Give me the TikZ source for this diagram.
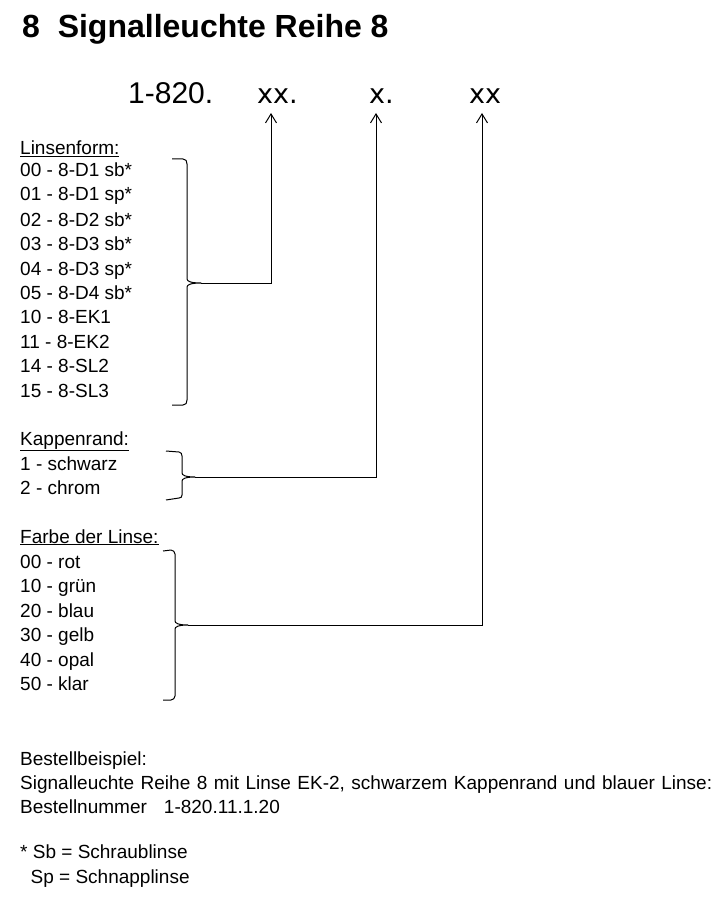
\documentclass[tikz,border=0pt]{standalone}
\usepackage{fontspec}
\setmainfont{Liberation Sans}
\newfontfamily\codefont{DejaVu Sans}
\usetikzlibrary{arrows.meta}
\begin{document}
\begin{tikzpicture}[x=1pt,y=-1pt,
  txt/.style={anchor=base west,inner sep=0pt,font=\fontsize{19}{19}\selectfont},
  codetxt/.style={anchor=base west,inner sep=0pt,font=\codefont\fontsize{27}{27}\selectfont},
  bracestyle/.style={line width=1pt,line join=round},
  conn/.style={line width=1pt,-{Straight Barb[length=9pt,width=11pt,line width=1pt]}}]
\useasboundingbox (0,0) rectangle (723,901);
% title
\node[anchor=base west,inner sep=0pt,font=\bfseries\fontsize{32}{32}\selectfont] (title) at (22,38) {8\hspace{0.278em}\ Signalleuchte Reihe 8};
% code
\node[anchor=base west,inner sep=0pt,font=\fontsize{30}{30}\selectfont] (c1) at (128,104) {1-820.};
\node[codetxt] (c2) at (257,104) {xx.};
\node[codetxt] (c3) at (369,104) {x.};
\node[codetxt] (c4) at (469,104) {xx};
\coordinate (a2) at (271,113);
\coordinate (a3) at (376,113);
\coordinate (a4) at (482,113);
% Linsenform
\node[txt] (lh) at (20,155) {\underline{Linsenform:}};
\node[txt] (l1) at (20,177) {00 - 8-D1 sb*};
\node[txt] (l2) at (20,201) {01 - 8-D1 sp*};
\node[txt] (l3) at (20,226) {02 - 8-D2 sb*};
\node[txt] (l4) at (20,250) {03 - 8-D3 sb*};
\node[txt] (l5) at (20,275) {04 - 8-D3 sp*};
\node[txt] (l6) at (20,299) {05 - 8-D4 sb*};
\node[txt] (l7) at (20,323) {10 - 8-EK1};
\node[txt] (l8) at (20,348) {11 - 8-EK2};
\node[txt] (l9) at (20,372) {14 - 8-SL2};
\node[txt] (l10) at (20,397) {15 - 8-SL3};
\coordinate (b1) at (201,283);
\draw[bracestyle] (172,159) -- (183,159) .. controls (186,159) and (187,161) .. (187,164)
  -- (187,279) .. controls (187,281) and (190,283) .. (b1)
  .. controls (190,283) and (187,285) .. (187,287)
  -- (187,400) .. controls (187,403) and (186,405) .. (183,405) -- (172,405);
\draw[conn] (b1) -| (a2);
% Kappenrand
\node[txt] (kh) at (20,445) {\underline{Kappenrand:}};
\node[txt] (k1) at (20,470) {1 - schwarz};
\node[txt] (k2) at (20,494) {2 - chrom};
\coordinate (b2) at (195,477);
\draw[bracestyle] (166,451) -- (179,452) .. controls (181,452) and (182,454) .. (182,456)
  -- (182,473) .. controls (182,475) and (185,477) .. (b2)
  .. controls (185,477) and (182,479) .. (182,481)
  -- (182,495) .. controls (182,497) and (181,498) .. (179,498) -- (166,500);
\draw[conn] (b2) -| (a3);
% Farbe der Linse
\node[txt] (fh) at (20,543) {\underline{Farbe der Linse:}};
\node[txt] (f1) at (20,568) {00 - rot};
\node[txt] (f2) at (20,592) {10 - grün};
\node[txt] (f3) at (20,617) {20 - blau};
\node[txt] (f4) at (20,641) {30 - gelb};
\node[txt] (f5) at (20,666) {40 - opal};
\node[txt] (f6) at (20,690) {50 - klar};
\coordinate (b3) at (188,625);
\draw[bracestyle] (163,551) -- (171,550) .. controls (173,550) and (175,552) .. (175,554)
  -- (175,621) .. controls (175,623) and (178,625) .. (b3)
  .. controls (178,625) and (175,627) .. (175,629)
  -- (175,696) .. controls (175,698) and (173,700) .. (171,700) -- (163,700);
\draw[conn] (b3) -| (a4);
% bottom
\node[txt] (e1) at (20,765) {Bestellbeispiel:};
\node[txt] (e2) at (20,789) {\spaceskip=0.34em plus 0.1em Signalleuchte Reihe 8 mit Linse EK-2, schwarzem Kappenrand und blauer Linse:};
\node[txt] (e3) at (20,813) {Bestellnummer\hspace{0.9em}1-820.11.1.20};
\node[txt] (n1) at (20,858) {* Sb = Schraublinse};
\node[txt] (n2) at (20,883) {\hspace{0.55em}Sp = Schnapplinse};
\end{tikzpicture}
\end{document}
